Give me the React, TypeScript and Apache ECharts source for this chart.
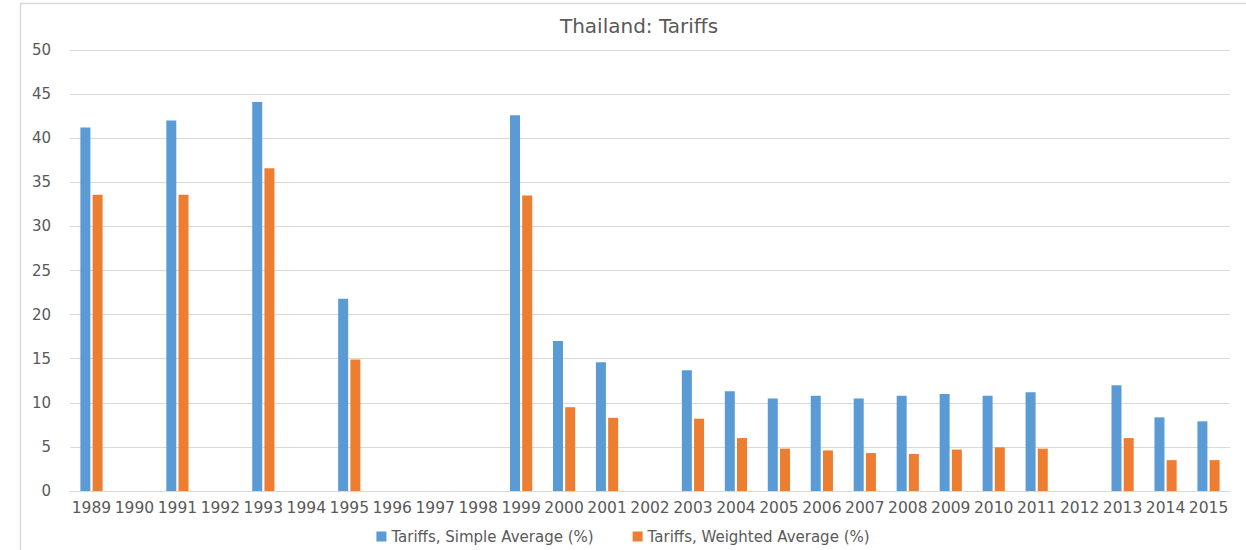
import React, { useEffect, useRef } from "react";
import * as echarts from "echarts";

const years = [
  "1989", "1990", "1991", "1992", "1993", "1994", "1995", "1996", "1997", "1998",
  "1999", "2000", "2001", "2002", "2003", "2004", "2005", "2006", "2007", "2008",
  "2009", "2010", "2011", "2012", "2013", "2014", "2015",
];

const simpleAvg: (number | null)[] = [
  41.2, null, 42.0, null, 44.1, null, 21.8, null, null, null,
  42.6, 17.0, 14.6, null, 13.7, 11.3, 10.5, 10.8, 10.5, 10.8,
  11.0, 10.8, 11.2, null, 12.0, 8.35, 7.9,
];

const weightedAvg: (number | null)[] = [
  33.6, null, 33.6, null, 36.6, null, 14.9, null, null, null,
  33.5, 9.5, 8.3, null, 8.2, 6.0, 4.8, 4.6, 4.3, 4.2,
  4.7, 4.95, 4.8, null, 6.0, 3.5, 3.5,
];

const seriesNames = ["Tariffs, Simple Average (%)", "Tariffs, Weighted Average (%)"];
const titleText = "Thailand: Tariffs";

export default function App() {
  const ref = useRef<HTMLDivElement>(null);

  useEffect(() => {
    if (!ref.current) return;
    const chart = echarts.init(ref.current, null, { renderer: "svg" });
    const font = "DejaVu Sans";
    chart.setOption({
      animation: false,
      backgroundColor: "#ffffff",
      textStyle: { fontFamily: font },
      title: {
        text: titleText,
        left: 634,
        textAlign: "center",
        top: 11,
        textStyle: { fontFamily: font, fontSize: 20, fontWeight: "normal", color: "#595959" },
      },
      graphic: [
        {
          type: "rect",
          shape: { x: 20.5, y: 3.5, width: 1240, height: 560 },
          style: { fill: "none", stroke: "#d9d9d9", lineWidth: 1.5 },
          silent: true,
        },
      ],
      legend: {
        top: 524,
        left: "center",
        icon: "rect",
        itemWidth: 10,
        itemHeight: 10,
        itemGap: 39,
        textStyle: { fontFamily: font, fontSize: 15, color: "#595959" },
        data: seriesNames,
      },
      grid: { left: 70, right: 16, top: 50, bottom: 59, containLabel: false },
      xAxis: {
        type: "category",
        data: years,
        axisLine: { lineStyle: { color: "#d9d9d9", width: 1 } },
        axisTick: { show: false },
        axisLabel: { interval: 0, color: "#595959", fontSize: 15.5, fontFamily: font, margin: 9 },
      },
      yAxis: {
        type: "value",
        min: 0,
        max: 50,
        interval: 5,
        axisLine: { show: false },
        axisTick: { show: false },
        splitLine: { lineStyle: { color: "#d9d9d9", width: 1 } },
        axisLabel: { color: "#595959", fontSize: 15, fontFamily: font, margin: 19 },
      },
      series: [
        {
          name: seriesNames[0],
          type: "bar",
          data: simpleAvg,
          barWidth: 10,
          barGap: "22%",
          itemStyle: { color: "#5b9bd5" },
        },
        {
          name: seriesNames[1],
          type: "bar",
          data: weightedAvg,
          barWidth: 10,
          itemStyle: { color: "#ed7d31" },
        },
      ],
    });
    return () => chart.dispose();
  }, []);

  return (
    <div
      ref={ref}
      style={{ position: "fixed", left: 0, top: 0, width: 1246, height: 550 }}
    />
  );
}
